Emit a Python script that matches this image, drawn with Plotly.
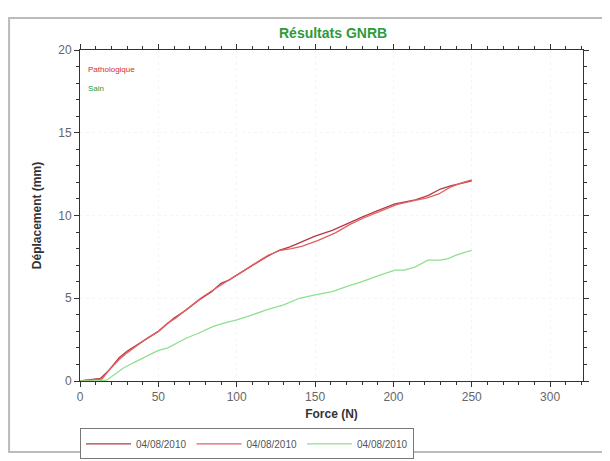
import plotly.graph_objects as go

# Courbes GNRB - force (N) / déplacement (mm)
force_patho_1 = [0, 5, 10, 13, 18, 25, 30, 35, 42, 50, 55, 60, 68, 76, 84, 90, 95, 100, 110, 119,
                 127, 134, 140, 150, 161, 170, 180, 190, 201, 214, 222, 230, 237, 244, 250]
depl_patho_1 = [0, 0.05, 0.08, 0.15, 0.6, 1.4, 1.8, 2.1, 2.5, 3.0, 3.4, 3.8, 4.3, 4.9, 5.4, 5.9, 6.1, 6.4, 7.0, 7.5,
                7.9, 8.1, 8.35, 8.75, 9.1, 9.5, 9.9, 10.3, 10.7, 10.95, 11.2, 11.6, 11.8, 11.95, 12.1]

force_patho_2 = [0, 5, 10, 14, 19, 25, 30, 36, 43, 50, 56, 61, 69, 77, 85, 90, 96, 100, 111, 120,
                 128, 135, 142, 152, 163, 172, 181, 191, 202, 213, 221, 229, 236, 243, 250]
depl_patho_2 = [0, 0.03, 0.06, 0.12, 0.7, 1.3, 1.7, 2.1, 2.6, 3.0, 3.5, 3.8, 4.4, 5.0, 5.5, 5.8, 6.2, 6.4, 7.1, 7.6,
                7.9, 8.0, 8.15, 8.5, 8.95, 9.45, 9.85, 10.25, 10.65, 10.9, 11.05, 11.3, 11.7, 11.95, 12.15]

force_sain = [0, 10, 17, 22, 28, 34, 42, 50, 56, 62, 68, 76, 85, 92, 100, 110, 119, 130, 140, 150,
              161, 170, 180, 190, 201, 207, 214, 222, 230, 235, 240, 245, 250]
depl_sain = [0, 0, 0.05, 0.4, 0.8, 1.1, 1.5, 1.85, 2.0, 2.3, 2.6, 2.9, 3.3, 3.5, 3.7, 4.0, 4.3, 4.6, 5.0, 5.2,
             5.4, 5.7, 6.0, 6.35, 6.7, 6.7, 6.9, 7.3, 7.3, 7.4, 7.6, 7.75, 7.9]

date_mesure = "04/08/2010"

fig = go.Figure()
fig.add_trace(go.Scatter(x=force_patho_1, y=depl_patho_1, mode="lines", name=date_mesure,
                         line=dict(color="#b23a48", width=1.3)))
fig.add_trace(go.Scatter(x=force_patho_2, y=depl_patho_2, mode="lines", name=date_mesure,
                         line=dict(color="#e36060", width=1.3)))
fig.add_trace(go.Scatter(x=force_sain, y=depl_sain, mode="lines", name=date_mesure,
                         line=dict(color="#8ee08e", width=1.3)))

axe = dict(showline=True, linecolor="#333", linewidth=1, mirror="ticks", ticks="outside",
           ticklen=5, tickcolor="#333", zeroline=False,
           showgrid=True, gridcolor="#f5f5f5", griddash="dot",
           tickfont=dict(family="Liberation Sans", size=12, color="#666"),
           title_font=dict(family="Liberation Sans", size=12, color="#333"))

fig.update_xaxes(**axe, range=[0, 321], dtick=50,
                 minor=dict(dtick=10, ticks="outside", ticklen=3, tickcolor="#333", showgrid=False),
                 title_text="<b>Force (N)</b>", title_standoff=6)
fig.update_yaxes(**axe, range=[0, 20], dtick=5,
                 minor=dict(dtick=1, ticks="outside", ticklen=3, tickcolor="#333", showgrid=False),
                 title_text="<b>Déplacement (mm)</b>", title_standoff=14)

fig.add_annotation(text="Pathologique", x=0.012, y=0.96, xref="paper", yref="paper",
                   xanchor="left", showarrow=False, font=dict(family="Liberation Sans", size=8, color="#d03030"))
fig.add_annotation(text="Sain", x=0.012, y=0.903, xref="paper", yref="paper",
                   xanchor="left", showarrow=False, font=dict(family="Liberation Sans", size=8, color="#2e9a3a"))

# cadre de la fenêtre
fig.add_shape(type="rect", xref="paper", yref="paper", x0=-0.141, x1=1.08, y0=-0.2145, y1=1.097,
              line=dict(color="#bbbbbb", width=2), layer="below")

# la page ajoute 8 px de marge autour du graphique : taille réduite d'autant
fig.update_layout(
    width=602, height=453,
    margin=dict(l=72, r=27, t=42, b=80, autoexpand=False),
    paper_bgcolor="white", plot_bgcolor="white",
    title=dict(text="<b>Résultats GNRB</b>", x=0.54, xanchor="center", y=0.945, yanchor="middle",
               yref="container", font=dict(family="Liberation Sans", size=14, color="#2e9a3a")),
    legend=dict(orientation="h", x=0, xanchor="left", y=-0.143, yanchor="top",
                bordercolor="#777", borderwidth=1, itemwidth=45,
                font=dict(family="Liberation Sans", size=10, color="#555"),
                tracegroupgap=0),
    showlegend=True,
)

fig.write_html("out.html")
